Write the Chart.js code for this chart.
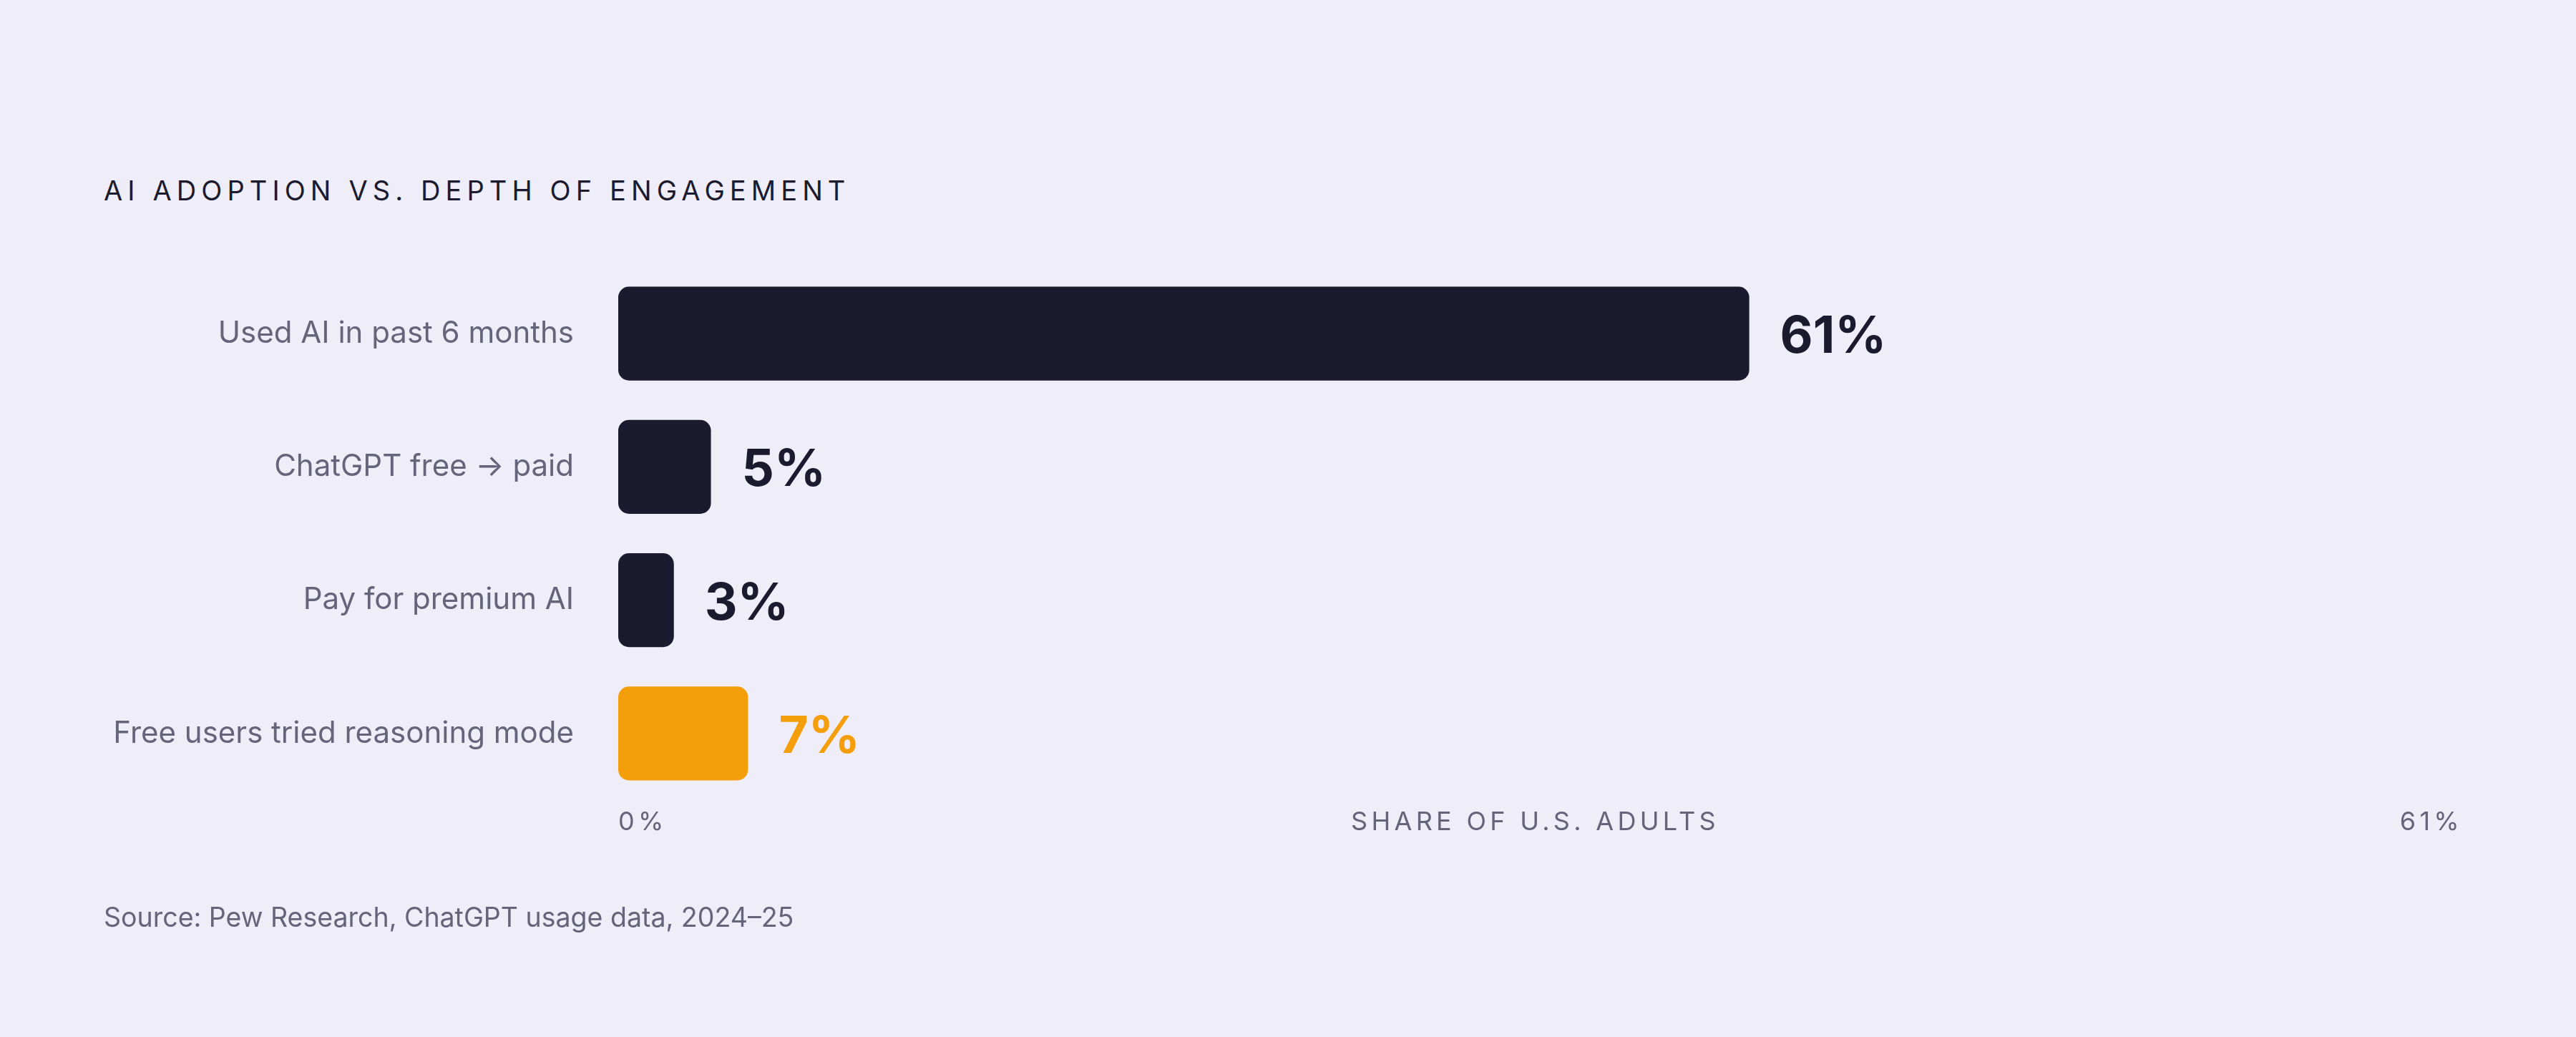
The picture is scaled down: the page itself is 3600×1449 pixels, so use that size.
<!DOCTYPE html>
<html>
<head>
<meta charset="utf-8">
<script src="https://cdn.jsdelivr.net/npm/chart.js@4.4.1/dist/chart.umd.min.js"></script>
<style>
    html, body { margin: 0; padding: 0; background: #efedf7; }
    #wrap { position: relative; width: 3600px; height: 1449px; overflow: hidden; font-family: Inter, 'Noto Sans', sans-serif; }
    #title { position: absolute; left: 145px; top: 247px; font-size: 38px; line-height: 38px; letter-spacing: 7.1px; color: #1c1a2e; white-space: nowrap; }
    #source { position: absolute; left: 145px; top: 1263px; font-size: 37.5px; line-height: 38px; color: #66647a; white-space: nowrap; }
    #adoption-chart { position: absolute; left: 0; top: 0; }
</style>
</head>
<body>
<div id="wrap">
    <div id="title">AI ADOPTION VS. DEPTH OF ENGAGEMENT</div>
    <canvas id="adoption-chart" width="3600" height="1449"></canvas>
    <div id="source">Source: Pew Research, ChatGPT usage data, 2024–25</div>
</div>
<script>
const categories = [
    'Used AI in past 6 months',
    'ChatGPT free → paid',
    'Pay for premium AI',
    'Free users tried reasoning mode',
];
const shareValues = [61, 5, 3, 7];
const highlighted = [false, false, false, true];
const axisTickLabels = ['0%', '61%'];
const axisTitle = 'SHARE OF U.S. ADULTS';

const inkColor = '#1c1a2e';
const accentColor = '#f59e0b';
const mutedColor = '#66647a';

const barColors = highlighted.map((h) => (h ? accentColor : inkColor));

Chart.defaults.font.family = 'Inter, "Noto Sans", sans-serif';

// percentage printed just right of each bar
const valueLabels = {
    id: 'valueLabels',
    afterDatasetsDraw(chart) {
        const { ctx } = chart;
        const meta = chart.getDatasetMeta(0);
        ctx.save();
        ctx.font = '700 71px Inter, "Noto Sans", sans-serif';
        ctx.textBaseline = 'alphabetic';
        ctx.textAlign = 'left';
        meta.data.forEach((bar, i) => {
            ctx.fillStyle = barColors[i];
            ctx.fillText(`${shareValues[i]}%`, bar.x + 43, bar.y + 27);
        });
        ctx.restore();
    },
};

// bottom row: 0% ... axis title ... max
const axisRow = {
    id: 'axisRow',
    afterDraw(chart) {
        const { ctx, chartArea } = chart;
        const x = chart.scales.x;
        const baseline = chartArea.bottom + 42;
        ctx.save();
        ctx.font = '36px Inter, "Noto Sans", sans-serif';
        ctx.letterSpacing = '5.3px';
        ctx.fillStyle = mutedColor;
        ctx.textBaseline = 'alphabetic';
        ctx.textAlign = 'left';
        ctx.fillText(axisTickLabels[0], x.getPixelForValue(x.min), baseline);
        ctx.textAlign = 'right';
        ctx.fillText(axisTickLabels[1], x.getPixelForValue(x.max) + 5, baseline);
        ctx.textAlign = 'center';
        ctx.fillText(axisTitle, (x.left + x.right) / 2 - 5, baseline);
        ctx.restore();
    },
};

new Chart(document.getElementById('adoption-chart'), {
    type: 'bar',
    data: {
        labels: categories,
        datasets: [
            {
                data: shareValues,
                backgroundColor: barColors,
                borderRadius: 15,
                borderSkipped: false,
                barPercentage: 0.704,
                categoryPercentage: 1,
            },
        ],
    },
    options: {
        indexAxis: 'y',
        responsive: false,
        devicePixelRatio: 1,
        animation: false,
        layout: { padding: { top: 373, right: 163, bottom: 331, left: 0 } },
        plugins: {
            legend: { display: false },
            tooltip: { enabled: false },
        },
        scales: {
            x: {
                type: 'linear',
                min: 0,
                max: 99.3,
                display: false,
            },
            y: {
                grid: { display: false },
                border: { display: false },
                ticks: {
                    color: mutedColor,
                    font: { size: 42 },
                    padding: 54,
                },
                afterFit: (scale) => {
                    scale.width = 864;
                },
            },
        },
    },
    plugins: [valueLabels, axisRow],
});
</script>
</body>
</html>
